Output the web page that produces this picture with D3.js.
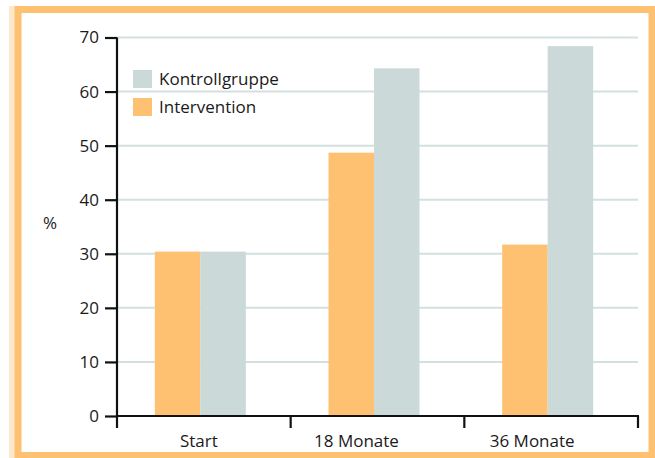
<!DOCTYPE html>
<html>
<head>
<meta charset="utf-8">
<script src="https://cdn.jsdelivr.net/npm/d3@7"></script>
<style>
  html, body { margin: 0; padding: 0; background: #fff; }
  svg { display: block; font-family: "Open Sans", "Noto Sans", sans-serif; }
</style>
</head>
<body>
<svg id="chart" width="655" height="458"></svg>
<script>
// Chart data
const categories = ["Start", "18 Monate", "36 Monate"];
const seriesNames = ["Intervention", "Kontrollgruppe"];
const intervention = [30.4, 48.7, 31.7];
const kontrollgruppe = [30.4, 64.3, 68.4];
const yTicks = [0, 10, 20, 30, 40, 50, 60, 70];

const colors = { Intervention: "#fec172", Kontrollgruppe: "#cbd9d9" };

// Layout
const x0 = 117, x1 = 638, yBase = 416, yTop = 37.5;
const labelShift = [-5, -21, -19];
const fontSize = 17;

const svg = d3.select("#chart");

// Frame
svg.append("rect").attr("x", 9).attr("y", 6).attr("width", 8).attr("height", 452).attr("fill", "#fee8cc");
svg.append("rect").attr("x", 18).attr("y", 9.5).attr("width", 634).attr("height", 446)
  .attr("fill", "none").attr("stroke", "#fec172").attr("stroke-width", 7);

const x = d3.scaleBand().domain(categories).range([x0, x1]);
const y = d3.scaleLinear().domain([0, 70]).range([yBase, yTop]);

// Gridlines
svg.append("g").selectAll("line").data(yTicks.filter(d => d > 0)).join("line")
  .attr("x1", x0).attr("x2", x1)
  .attr("y1", d => y(d)).attr("y2", d => y(d))
  .attr("stroke", "#d3e0e0").attr("stroke-width", 2);

// Bars
const barW = 45.5;
const groupShift = -3.5;
const rows = categories.map((c, i) => ({ c, Intervention: intervention[i], Kontrollgruppe: kontrollgruppe[i] }));
const g = svg.append("g");
rows.forEach(r => {
  const cx = x(r.c) + x.bandwidth() / 2 + groupShift;
  seriesNames.forEach((s, j) => {
    g.append("rect")
      .attr("x", cx - barW + j * barW)
      .attr("y", y(r[s]))
      .attr("width", barW)
      .attr("height", yBase - y(r[s]))
      .attr("fill", colors[s]);
  });
});

// Y axis
const yAxis = svg.append("g").attr("transform", `translate(${x0},0)`)
  .call(d3.axisLeft(y).tickValues(yTicks).tickSize(12).tickPadding(6).tickSizeOuter(0));
yAxis.select(".domain").attr("stroke", "#111").attr("stroke-width", 2.2).attr("d", `M0,${yTop}V${yBase + 12}`);
yAxis.selectAll(".tick line").attr("stroke", "#111").attr("stroke-width", 2.2);
yAxis.selectAll(".tick text").attr("font-size", fontSize).attr("fill", "#1a1a1a").attr("font-family", "Open Sans");

// X axis
const xAxisG = svg.append("g");
xAxisG.append("line").attr("x1", x0 - 1).attr("x2", x1 + 1).attr("y1", yBase).attr("y2", yBase)
  .attr("stroke", "#111").attr("stroke-width", 2.2);
const boundaries = categories.map(c => x(c)).concat([x1]);
xAxisG.selectAll("line.tk").data(boundaries.slice(1)).join("line").attr("class", "tk")
  .attr("x1", d => d).attr("x2", d => d).attr("y1", yBase).attr("y2", yBase + 12)
  .attr("stroke", "#111").attr("stroke-width", 2.2);
xAxisG.selectAll("text").data(categories).join("text")
  .attr("x", (d, i) => x(d) + x.bandwidth() / 2 + labelShift[i])
  .attr("y", 447)
  .attr("text-anchor", "middle")
  .attr("font-size", fontSize).attr("fill", "#1a1a1a")
  .text(d => d);

// Y label
svg.append("text").attr("x", 50).attr("y", 229).attr("text-anchor", "middle")
  .attr("font-size", fontSize).attr("fill", "#1a1a1a").text("%");

// Legend
const legendItems = ["Kontrollgruppe", "Intervention"];
const lg = svg.append("g");
legendItems.forEach((s, i) => {
  lg.append("rect").attr("x", 133).attr("y", 70 + i * 28).attr("width", 19).attr("height", 18).attr("fill", colors[s]);
  lg.append("text").attr("x", 159).attr("y", 85 + i * 28).attr("font-size", fontSize).attr("fill", "#1a1a1a").text(s);
});
</script>
</body>
</html>
